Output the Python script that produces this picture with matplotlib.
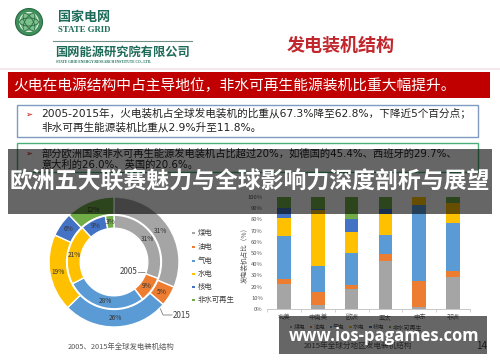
import matplotlib
matplotlib.use('Agg')
import matplotlib.pyplot as plt
from matplotlib.patches import Rectangle, Circle, Arc
import numpy as np

plt.rcParams['font.family'] = ['Noto Sans CJK SC', 'DejaVu Sans']

# ---------------- data ----------------
categories = ['煤电', '油电', '气电', '水电', '核电', '非水可再生']
colors = ['#A5A5A5', '#ED7D31', '#5B9BD5', '#FFC000', '#4472C4', '#70AD47']
share_2005 = [31, 9, 28, 21, 9, 3]
share_2015 = [31, 5, 26, 19, 6, 12]

regions = ['北美', '中南美', '欧洲', '亚太', '中东', '非洲']
coal = [22, 4, 18, 43, 1.5, 28.5]
oil = [4.5, 11, 3, 6, 23.5, 5]
gas = [38.5, 23, 29, 17, 68, 43]
hydro = [16, 50, 19, 19, 7, 18]
nuclear = [9, 1, 11, 4, 0, 0.5]
renew = [10, 11, 20, 11, 0, 5]
yticks = [0, 10, 20, 30, 40, 50, 60, 70, 80, 90, 100]

W, H = 500, 362
fig = plt.figure(figsize=(5, 3.62), dpi=100)
fig.patch.set_facecolor('white')


def px_axes(x0, y0, x1, y1, **kw):
    return fig.add_axes([x0 / W, 1 - y1 / H, (x1 - x0) / W, (y1 - y0) / H], **kw)


bg = px_axes(0, 0, W, H)
bg.set_xlim(0, W)
bg.set_ylim(H, 0)
bg.axis('off')

latin_cjk = ['DejaVu Sans', 'Noto Sans CJK SC']

# ---------------- header ----------------
teal = '#1d6b58'
bg.add_patch(Circle((29, 22), 13.5, facecolor='#3f8f5a', edgecolor='#2a6a45', lw=0.8))
bg.add_patch(Circle((29, 22), 9.5, facecolor='#7cc08a', edgecolor='#ffffff', lw=0.6))
for a in (0, 60, 120):
    bg.add_patch(Arc((29, 22), 19, 8, angle=a, color='#2a6a45', lw=0.6))
bg.text(58, 16.5, '国家电网', fontsize=9.4, fontweight='bold', color=teal, va='center', ha='left')
bg.text(58, 29.5, 'STATE GRID', fontsize=6.3, fontweight='bold', color=teal, va='center', ha='left',
        family='Liberation Serif')
bg.plot([53, 192], [40.5, 40.5], color='#6f8f86', lw=0.8)
bg.text(55, 52, '国网能源研究院有限公司', fontsize=8.8, fontweight='bold', color=teal, va='center', ha='left')
bg.text(56, 61.5, 'STATE GRID ENERGY RESEARCH INSTITUTE CO., LTD.', fontsize=2.6, fontweight='bold',
        color=teal, va='center', ha='left', family='Liberation Serif')
bg.text(287, 45, '发电装机结构', fontsize=13, fontweight='bold', color='#c0282d', va='center', ha='left')
bg.plot([0, 500], [68.5, 68.5], color='#f3e4e6', lw=1.2)

# red banner
bg.add_patch(Rectangle((8, 72), 482, 26, facecolor='#c00000', edgecolor='none'))
bg.text(13, 85.5, '火电在电源结构中占主导地位，非水可再生能源装机比重大幅提升。', fontsize=10.65,
        color='white', va='center', ha='left')

# box 1
bg.add_patch(Rectangle((17, 104.5), 461, 32, facecolor='white', edgecolor='#7f9cc0', lw=1))
bg.text(25, 114, '➢', fontsize=6, color='#c00000', va='center', ha='left', family='DejaVu Sans')
bg.text(41, 114, '2005-2015年，火电装机占全球发电装机的比重从67.3%降至62.8%，下降近5个百分点；',
        fontsize=7.65, color='#222222', va='center', ha='left', family=latin_cjk)
bg.text(41, 127, '非水可再生能源装机比重从2.9%升至11.8%。', fontsize=7.65, color='#222222',
        va='center', ha='left', family=latin_cjk)

# box 2
bg.add_patch(Rectangle((17, 143), 461, 29, facecolor='white', edgecolor='#4caf7a', lw=1))
bg.text(25, 153.5, '➢', fontsize=6, color='#c00000', va='center', ha='left', family='DejaVu Sans')
bg.text(41, 153.5, '部分欧洲国家非水可再生能源发电装机占比超过20%，如德国的45.4%、西班牙的29.7%、',
        fontsize=7.4, color='#222222', va='center', ha='left', family=latin_cjk)
bg.text(41, 165, '意大利的26.0%、英国的20.6%。', fontsize=7.4, color='#222222', va='center', ha='left',
        family=latin_cjk)

# ---------------- donut ----------------
cx, cy, R = 114, 262, 65
ax_p = px_axes(cx - R, cy - R, cx + R, cy + R)
outer, _ = ax_p.pie(share_2015, radius=1, colors=colors, startangle=90, counterclock=False,
                    wedgeprops=dict(width=0.27, edgecolor='white', linewidth=1))
inner, _ = ax_p.pie(share_2005, radius=0.72, colors=colors, startangle=90, counterclock=False,
                    wedgeprops=dict(width=0.2, edgecolor='white', linewidth=1))
ax_p.set_xlim(-1, 1)
ax_p.set_ylim(-1, 1)
ax_p.set_aspect('equal')
ax_p.axis('off')
for wedges, vals in ((outer, share_2015), (inner, share_2005)):
    for w, v in zip(wedges, vals):
        th = np.deg2rad((w.theta1 + w.theta2) / 2)
        r = w.r - w.width / 2
        ax_p.text(r * np.cos(th), r * np.sin(th), f'{v}%', fontsize=4.8, color='#333333',
                  ha='center', va='center')

bg.text(137, 272, '2005', fontsize=5.8, color='#404040', ha='right', va='center')
bg.plot([138, 148], [272, 272], color='#808080', lw=0.6)
bg.plot([158, 163, 172], [303, 315, 315], color='#808080', lw=0.6)
bg.text(173, 315, '2015', fontsize=5.8, color='#404040', ha='left', va='center')

leg_y = [233, 247, 261, 274, 287, 300]
for c, lab, y in zip(colors, categories, leg_y):
    bg.add_patch(Rectangle((192, y - 1.3), 2.6, 2.6, facecolor=c, edgecolor='none'))
    bg.text(198, y, lab, fontsize=5.3, color='#404040', ha='left', va='center')
bg.text(121, 347, '2005、2015年全球发电装机结构', fontsize=5.3, color='#595959', ha='center', va='center')

# ---------------- stacked bars ----------------
ax_b = px_axes(267, 197, 470, 309)
x = np.arange(len(regions))
bottom = np.zeros(len(regions))
for vals, c in zip([coal, oil, gas, hydro, nuclear, renew], colors):
    ax_b.bar(x, vals, width=0.4, bottom=bottom, color=c, edgecolor='none')
    bottom += np.array(vals)
ax_b.set_xlim(-0.5, 5.5)
ax_b.set_ylim(0, 100)
ax_b.set_yticks(yticks)
ax_b.set_yticklabels([f'{t}%' for t in yticks], fontsize=4.2, color='#595959')
ax_b.set_xticks(x)
ax_b.set_xticklabels(regions, fontsize=4.6, color='#595959')
ax_b.tick_params(axis='both', length=0, pad=3)
ax_b.set_xticks(np.arange(-0.5, 6, 1), minor=True)
ax_b.tick_params(axis='x', which='minor', length=2, color='#bfbfbf', width=0.5)
for s in ('left', 'right', 'top'):
    ax_b.spines[s].set_visible(False)
ax_b.spines['bottom'].set_color('#bfbfbf')
ax_b.spines['bottom'].set_linewidth(0.6)
ax_b.set_facecolor('none')

bg.text(245, 253, '发电装机占比（%）', fontsize=4.8, color='#595959', rotation=90, ha='center', va='center')

lx = 290
for c, lab in zip(colors, categories):
    bg.add_patch(Rectangle((lx, 326), 2.4, 2.4, facecolor=c, edgecolor='none'))
    bg.text(lx + 3.5, 327.2, lab, fontsize=4.2, color='#595959', ha='left', va='center')
    lx += 3.5 + 5.9 * len(lab) + 4.5
bg.text(358, 347, '2015年全球分地区发电装机结构', fontsize=5.5, color='#595959', ha='center', va='center')
bg.text(482, 346, '14', fontsize=7, color='#404040', ha='center', va='center')

# ---------------- overlays ----------------
ov = px_axes(0, 0, W, H)
ov.set_zorder(10)
ov.set_xlim(0, W)
ov.set_ylim(H, 0)
ov.axis('off')
ov.add_patch(Rectangle((8, 149), 484, 65, facecolor='black', alpha=0.6, edgecolor='none'))
ov.text(250, 182.5, '欧洲五大联赛魅力与全球影响力深度剖析与展望', fontsize=16.5, fontweight='bold',
        color='white', ha='center', va='center')
ov.add_patch(Rectangle((279, 316), 208, 38, facecolor='black', alpha=0.6, edgecolor='none'))
ov.text(384, 336, 'www.ios-pagames.com', fontsize=12, fontweight='bold', color='white',
        ha='center', va='center', family='Open Sans')

fig.savefig('out.png', dpi=100, facecolor='white')
